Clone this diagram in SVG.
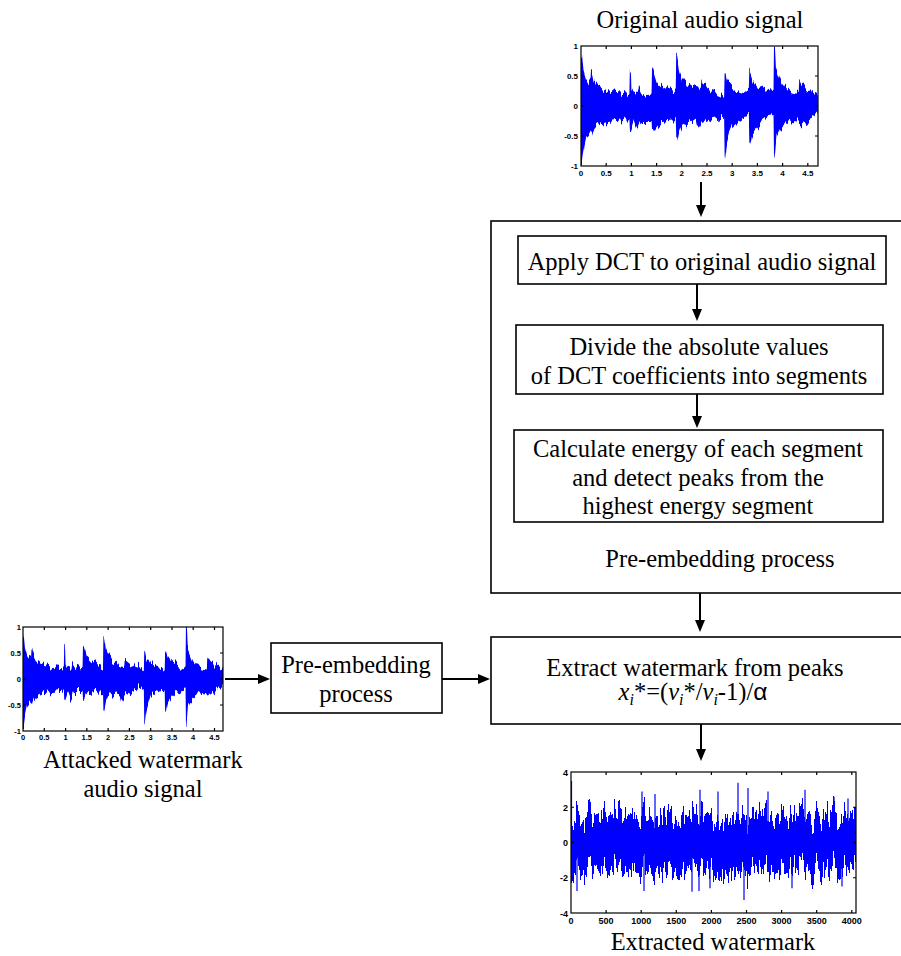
<svg xmlns="http://www.w3.org/2000/svg" xmlns:xlink="http://www.w3.org/1999/xlink" width="901" height="956" viewBox="0 0 901 956">
<style>
.t{font-family:"Liberation Serif","Times New Roman",serif;font-size:24.5px;fill:#000;text-anchor:middle}
.box{fill:#fff;stroke:#000;stroke-width:1.6}
.ax{fill:none;stroke:#000;stroke-width:1.2}
.tk{font-family:"Liberation Sans",Arial,sans-serif;font-weight:bold;fill:#000}
.wv{fill:#0000ff}
.sp{stroke:#0000ff;stroke-width:1.2}
.conn line{stroke:#000;stroke-width:2}
</style>
<defs>
<marker id="ah" markerUnits="userSpaceOnUse" markerWidth="12" markerHeight="10" viewBox="0 0 12 10" refX="0" refY="5" orient="auto">
<path d="M0,0 L12,5 L0,10 Z" fill="#000"/>
</marker>
<filter id="jag" x="-2%" y="-15%" width="104%" height="130%" color-interpolation-filters="sRGB">
<feTurbulence type="fractalNoise" baseFrequency="0.4 0.004" numOctaves="2" seed="3" result="n"/>
<feColorMatrix in="n" type="matrix" values="0 0 0 0 0.5  0 1 0 0 0  0 0 0 0 0  0 0 0 0 1" result="m"/>
<feDisplacementMap in="SourceGraphic" in2="m" scale="16" xChannelSelector="R" yChannelSelector="G"/>
</filter>
<filter id="jag2" x="-2%" y="-40%" width="104%" height="180%" color-interpolation-filters="sRGB">
<feTurbulence type="fractalNoise" baseFrequency="0.45 0.003" numOctaves="2" seed="7" result="n"/>
<feColorMatrix in="n" type="matrix" values="0 0 0 0 0.5  0 1 0 0 0  0 0 0 0 0  0 0 0 0 1" result="m"/>
<feDisplacementMap in="SourceGraphic" in2="m" scale="60" xChannelSelector="R" yChannelSelector="G"/>
</filter>
<clipPath id="c1"><rect x="581" y="46" width="237" height="120"/></clipPath>
<clipPath id="c2"><rect x="23" y="627" width="200" height="104"/></clipPath>
<clipPath id="c3"><rect x="571" y="772" width="285" height="141"/></clipPath>
<path id="aud" d="M0,-88 L2,-86 5,-60 10,-45 15,-40 19,-42 20,-57 22,-55 25,-45 30,-36 40,-30 50,-27 60,-25 80,-22 96,-20 97,-62 99,-60 100,-30 103,-25 110,-22 114,-22 115,-30 118,-26 130,-20 140,-21 141,-65 143,-62 150,-42 160,-33 170,-28 180,-25 188,-22 189,-83 191,-80 195,-56 200,-46 210,-36 220,-31 230,-28 238,-27 239,-38 241,-36 250,-30 260,-25 275,-20 284,-17 285,-55 287,-52 290,-40 300,-30 310,-25 320,-22 333,-20 334,-58 336,-55 340,-45 350,-33 360,-27 370,-22 382,-20 383,-100 385,-98 387,-62 395,-45 400,-36 410,-26 420,-22 432,-20 433,-45 435,-43 440,-35 450,-28 460,-21 470,-16 L470,15 460,20 450,25 440,30 435,31 430,26 420,25 410,28 400,35 395,40 388,50 384,90 383,88 382,20 370,22 360,28 350,35 340,45 336,64 334,65 333,20 320,22 310,28 300,35 295,45 290,60 286,88 285,86 284,18 270,20 260,22 240,30 232,40 230,38 228,30 220,28 210,30 200,35 195,45 191,62 189,60 188,25 170,27 150,30 143,40 141,40 140,25 120,25 112,38 110,36 105,25 99,40 97,40 96,22 70,25 50,27 40,30 30,35 25,40 21,50 15,45 10,50 5,70 2,90 0,90 Z"/>
</defs>

<rect width="901" height="956" fill="#fff"/>

<g id="title-original">
<text class="t" x="700" y="28">Original audio signal</text>
</g>

<g id="plot-original">
<g clip-path="url(#c1)"><g filter="url(#jag)"><use xlink:href="#aud" class="wv" transform="translate(581,106) scale(0.504,0.6)"/></g></g>
<rect class="ax" x="581" y="46" width="237" height="120"/>
<path class="ax" d="M606.2,166v-3M631.4,166v-3M656.6,166v-3M681.8,166v-3M707,166v-3M732.2,166v-3M757.4,166v-3M782.6,166v-3M807.8,166v-3M606.2,46v3M631.4,46v3M656.6,46v3M681.8,46v3M707,46v3M732.2,46v3M757.4,46v3M782.6,46v3M807.8,46v3M581,76h3M581,106h3M581,136h3M818,76h-3M818,106h-3M818,136h-3"/>
<g class="tk" font-size="8" text-anchor="end">
<text x="578" y="49">1</text><text x="578" y="79">0.5</text><text x="578" y="109">0</text><text x="578" y="139">-0.5</text><text x="578" y="169">-1</text>
</g>
<g class="tk" font-size="8" text-anchor="middle">
<text x="581" y="176">0</text><text x="606.2" y="176">0.5</text><text x="631.4" y="176">1</text><text x="656.6" y="176">1.5</text><text x="681.8" y="176">2</text><text x="707" y="176">2.5</text><text x="732.2" y="176">3</text><text x="757.4" y="176">3.5</text><text x="782.6" y="176">4</text><text x="807.8" y="176">4.5</text>
</g>
</g>

<g id="pre-embedding-group">
<rect class="box" x="491" y="221" width="420" height="372"/>
<text class="t" x="720" y="567">Pre-embedding process</text>
</g>

<g id="step-dct">
<rect class="box" x="518" y="236" width="368" height="48"/>
<text class="t" x="702" y="270">Apply DCT to original audio signal</text>
</g>

<g id="step-divide">
<rect class="box" x="516" y="325" width="367" height="69"/>
<text class="t" x="699" y="355">Divide the absolute values</text>
<text class="t" x="699" y="384">of DCT coefficients into segments</text>
</g>

<g id="step-energy">
<rect class="box" x="514" y="430" width="369" height="92"/>
<text class="t" x="698" y="457">Calculate energy of each segment</text>
<text class="t" x="698" y="486">and detect peaks from the</text>
<text class="t" x="698" y="514">highest energy segment</text>
</g>

<g id="plot-attacked">
<g clip-path="url(#c2)"><g filter="url(#jag)"><use xlink:href="#aud" class="wv" transform="translate(23,679) scale(0.4255,0.52)"/></g></g>
<rect class="ax" x="23" y="627" width="200" height="104"/>
<path class="ax" d="M44.3,731v-3M65.6,731v-3M86.8,731v-3M108.1,731v-3M129.4,731v-3M150.7,731v-3M172,731v-3M193.2,731v-3M214.5,731v-3M44.3,627v3M65.6,627v3M86.8,627v3M108.1,627v3M129.4,627v3M150.7,627v3M172,627v3M193.2,627v3M214.5,627v3M23,653h3M23,679h3M23,705h3M223,653h-3M223,679h-3M223,705h-3"/>
<g class="tk" font-size="7.5" text-anchor="end">
<text x="21" y="630">1</text><text x="21" y="656">0.5</text><text x="21" y="682">0</text><text x="21" y="708">-0.5</text><text x="21" y="734">-1</text>
</g>
<g class="tk" font-size="7.5" text-anchor="middle">
<text x="23" y="740">0</text><text x="44.3" y="740">0.5</text><text x="65.6" y="740">1</text><text x="86.8" y="740">1.5</text><text x="108.1" y="740">2</text><text x="129.4" y="740">2.5</text><text x="150.7" y="740">3</text><text x="172" y="740">3.5</text><text x="193.2" y="740">4</text><text x="214.5" y="740">4.5</text>
</g>
</g>

<g id="label-attacked">
<text class="t" x="143" y="768">Attacked watermark</text>
<text class="t" x="143" y="797">audio signal</text>
</g>

<g id="box-preembed">
<rect class="box" x="271" y="643" width="171" height="70"/>
<text class="t" x="356" y="673">Pre-embedding</text>
<text class="t" x="356" y="702">process</text>
</g>

<g id="box-extract">
<rect class="box" x="491" y="637" width="420" height="87"/>
<text class="t" x="695" y="676">Extract watermark from peaks</text>
<text class="t" x="693" y="700"><tspan font-style="italic">x</tspan><tspan font-style="italic" font-size="16" dy="5">i</tspan><tspan dy="-5">*=(</tspan><tspan font-style="italic">v</tspan><tspan font-style="italic" font-size="16" dy="5">i</tspan><tspan dy="-5">*/</tspan><tspan font-style="italic">v</tspan><tspan font-style="italic" font-size="16" dy="5">i</tspan><tspan dy="-5">-1)/</tspan><tspan font-family="Liberation Sans, Arial, sans-serif">α</tspan></text>
</g>

<g id="plot-extracted">
<g clip-path="url(#c3)">
<g filter="url(#jag2)"><rect class="wv" x="571" y="815" width="285" height="55"/></g>
<path class="sp" d="M571.5,842V781M642,842V791.5M655,842V794M700,842V789.7M718,842V791.5M738,842V782.7M748,842V788M768,842V791.5M805,842V789.7M834,842V796.7M848,842V798.5M577,842V891M644,842V891M692,842V891.8M699,842V891M710,842V888.3M744,842V900M792,842V888.3M842,842V886.5"/>
</g>
<rect class="ax" x="571" y="772" width="285" height="141"/>
<path class="ax" d="M606.1,913v-3M641.2,913v-3M676.3,913v-3M711.4,913v-3M746.5,913v-3M781.6,913v-3M816.7,913v-3M851.8,913v-3M606.1,772v3M641.2,772v3M676.3,772v3M711.4,772v3M746.5,772v3M781.6,772v3M816.7,772v3M851.8,772v3M571,807.25h3M571,842.5h3M571,877.75h3M856,807.25h-3M856,842.5h-3M856,877.75h-3"/>
<g class="tk" font-size="9" text-anchor="end">
<text x="568" y="775.5">4</text><text x="568" y="810.5">2</text><text x="568" y="846">0</text><text x="568" y="881">-2</text><text x="568" y="916.5">-4</text>
</g>
<g class="tk" font-size="9" text-anchor="middle">
<text x="571" y="924">0</text><text x="606.1" y="924">500</text><text x="641.2" y="924">1000</text><text x="676.3" y="924">1500</text><text x="711.4" y="924">2000</text><text x="746.5" y="924">2500</text><text x="781.6" y="924">3000</text><text x="816.7" y="924">3500</text><text x="851.8" y="924">4000</text>
</g>
</g>

<g id="label-extracted">
<text class="t" x="713" y="950">Extracted watermark</text>
</g>

<g id="connectors" class="conn">
<line x1="701" y1="182" x2="701" y2="205" marker-end="url(#ah)"/>
<line x1="697" y1="284" x2="697" y2="309" marker-end="url(#ah)"/>
<line x1="697" y1="394" x2="697" y2="416" marker-end="url(#ah)"/>
<line x1="700" y1="593" x2="700" y2="620" marker-end="url(#ah)"/>
<line x1="701" y1="724" x2="701" y2="749" marker-end="url(#ah)"/>
<line x1="225" y1="679" x2="258" y2="679" marker-end="url(#ah)"/>
<line x1="442" y1="679" x2="478" y2="679" marker-end="url(#ah)"/>
</g>
</svg>
